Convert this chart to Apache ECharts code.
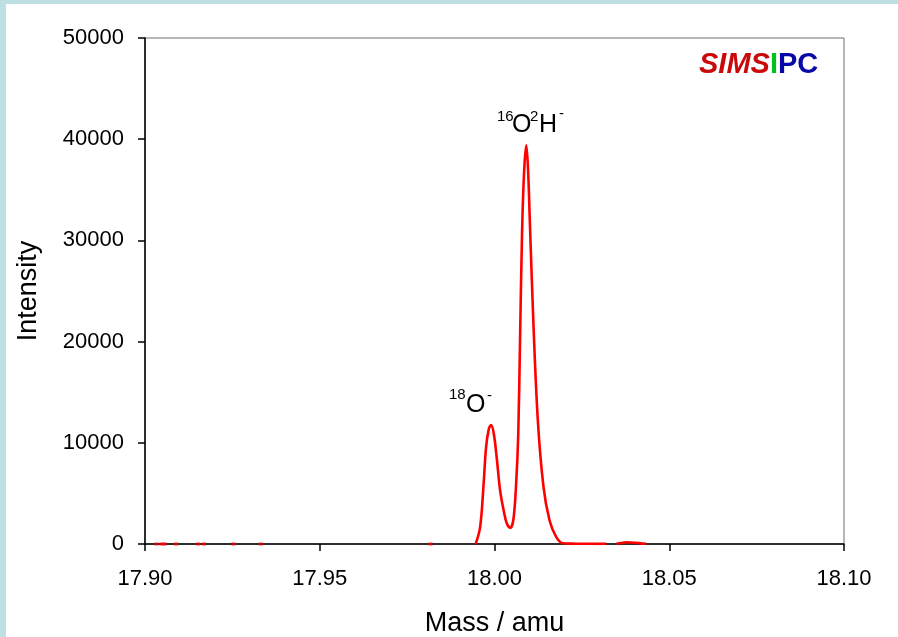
<!DOCTYPE html>
<html>
<head>
<meta charset="utf-8">
<script src="https://cdn.jsdelivr.net/npm/echarts@6/dist/echarts.min.js"></script>
<style>
  html, body { margin: 0; padding: 0; width: 898px; height: 637px; background: #bfe0e2; overflow: hidden; }
  #chart { position: absolute; left: 6px; top: 4px; width: 892px; height: 633px; background: #ffffff; }
</style>
</head>
<body>
<div id="chart"></div>
<script>
// ---- data ----
const xTicks = [17.90, 17.95, 18.00, 18.05, 18.10];
const yTicks = [0, 10000, 20000, 30000, 40000, 50000];

// main spectrum trace (mass in amu, intensity in counts); null = gap in the trace
const peakMass = [17.9946, 17.9959, 17.9969, 17.9976, 17.9984, 17.9990, 17.9998, 18.0007, 18.0016, 18.0026,
                  18.0035, 18.0045, 18.0054, 18.0062, 18.0068, 18.0073, 18.0079, 18.0085, 18.0091, 18.0096,
                  18.0101, 18.0111, 18.0124, 18.0140, 18.0157, 18.0176, 18.0195, 18.0230, 18.0270, 18.0320,
                  18.0335,
                  18.0349, 18.0363, 18.0377, 18.0391, 18.0405, 18.0420, 18.0434];
const peakIntensity = [0, 1700, 6000, 9600, 11400, 11750, 10900, 8300, 5300, 3350,
                       2050, 1600, 2400, 6000, 10900, 20000, 31000, 37000, 39400, 37000,
                       32000, 22100, 12200, 5700, 2400, 720, 70, 30, 20, 10,
                       null,
                       20, 100, 160, 150, 120, 60, 10];

// isolated single counts on the baseline
const noiseMass = [17.9033, 17.9048, 17.9057, 17.9089, 17.9152, 17.9169, 17.9253, 17.9331, 17.9817];
const noiseIntensity = [0, 0, 0, 0, 0, 0, 0, 0, 0];

const xTitle = 'Mass / amu';
const yTitle = 'Intensity';

// ---- build ----
const traceData = peakMass.map((m, i) => [m, peakIntensity[i] === null ? '-' : peakIntensity[i]]);
const noiseData = noiseMass.map((m, i) => [m, noiseIntensity[i]]);

const FONT = '"Liberation Sans", Arial, sans-serif';
const chart = echarts.init(document.getElementById('chart'), null, { renderer: 'canvas' });

function txt(text, x, y, size, extra) {
  return Object.assign({
    type: 'text', x: x, y: y, z: 10,
    style: { text: text, fontFamily: FONT, fontSize: size, fill: '#000', textVerticalAlign: 'middle' }
  }, extra || {});
}

const option = {
  animation: false,
  backgroundColor: '#ffffff',
  grid: { left: 139, right: 54, top: 34, bottom: 93, outerBoundsMode: 'none', containLabel: false,
          show: true, borderColor: '#6e6e6e', borderWidth: 1, backgroundColor: 'transparent' },
  xAxis: {
    type: 'value', min: 17.90, max: 18.10, interval: 0.05,
    name: xTitle, nameLocation: 'middle', nameGap: 66,
    nameTextStyle: { fontFamily: FONT, fontSize: 27, color: '#000' },
    axisLine: { show: true, onZero: false, lineStyle: { color: '#000', width: 1.5 } },
    axisTick: { show: true, length: 7, lineStyle: { color: '#000', width: 1.5 } },
    axisLabel: { fontFamily: FONT, fontSize: 22, color: '#000', margin: 24,
      formatter: v => xTicks.find(t => Math.abs(t - v) < 1e-9) !== undefined ? v.toFixed(2) : '' },
    splitLine: { show: false }
  },
  yAxis: {
    type: 'value', min: 0, max: 50000, interval: 10000,
    name: yTitle, nameLocation: 'middle', nameGap: 103, nameRotate: 90,
    nameTextStyle: { fontFamily: FONT, fontSize: 27, color: '#000' },
    axisLine: { show: true, lineStyle: { color: '#000', width: 1.5 } },
    axisTick: { show: true, length: 7, lineStyle: { color: '#000', width: 1.5 } },
    axisLabel: { fontFamily: FONT, fontSize: 22, color: '#000', margin: 21,
      formatter: v => yTicks.indexOf(v) >= 0 ? String(v) : '' },
    splitLine: { show: false }
  },
  series: [
    {
      type: 'line', data: traceData, connectNulls: false,
      smooth: 0.35, showSymbol: false, symbol: 'none',
      lineStyle: { color: '#ff0000', width: 2.6 }, z: 5
    },
    {
      type: 'scatter', data: noiseData, symbol: 'rect', symbolSize: [4, 3],
      itemStyle: { color: '#ff0000' }, z: 5
    }
  ],
  graphic: [
    // SIMSIPC logo
    { type: 'text', left: 693, top: 46, z: 10,
      style: { rich: {
        r: { fontFamily: FONT, fontSize: 29, fontWeight: 'bold', fontStyle: 'italic', fill: '#c80a0a' },
        g: { fontFamily: FONT, fontSize: 29, fontWeight: 'bold', fill: '#00c020' },
        b: { fontFamily: FONT, fontSize: 29, fontWeight: 'bold', fill: '#0808a8' }
      }, text: '{r|SIMS}{g|I}{b|PC}' } },
    // 16O2H- label
    txt('16', 491, 113, 15),
    txt('O', 506, 121, 25),
    txt('2', 524, 113, 15),
    txt('H', 533, 121, 25),
    txt('-', 553, 110, 15),
    // 18O- label
    txt('18', 443, 391, 15),
    txt('O', 460, 401, 25),
    txt('-', 481, 392, 15)
  ]
};
chart.setOption(option);
</script>
</body>
</html>
